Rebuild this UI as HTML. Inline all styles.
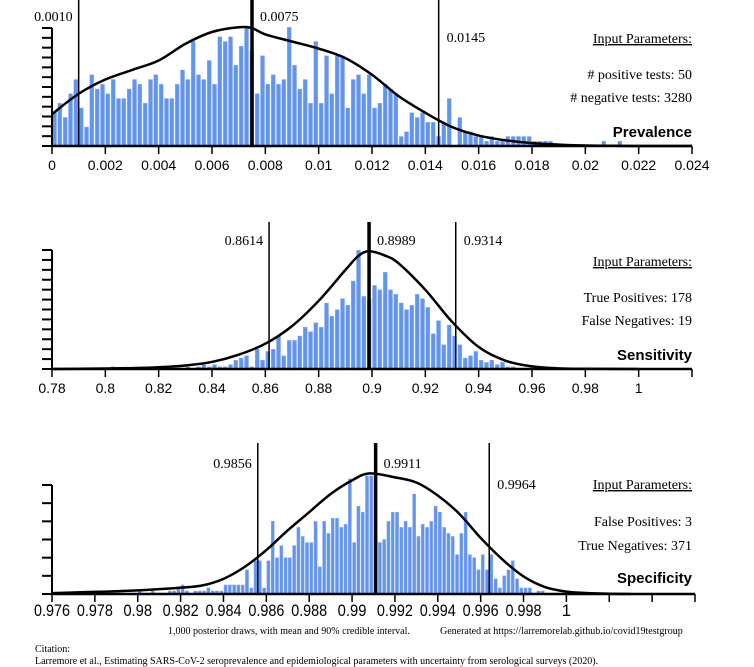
<!DOCTYPE html>
<html><head><meta charset="utf-8"><style>
html,body{margin:0;padding:0;background:#fff;}
svg{display:block;}
.tk{font-family:"Liberation Sans",sans-serif;font-size:14px;fill:#000;}
.tk3{font-family:"Liberation Sans",sans-serif;font-size:17px;fill:#000;}
.sf{font-family:"Liberation Serif",serif;font-size:14px;fill:#000;}
.ttl{font-family:"Liberation Sans",sans-serif;font-size:15px;font-weight:bold;fill:#000;}
.ft{font-family:"Liberation Serif",serif;font-size:10px;fill:#000;}
</style></head><body>
<svg id="chart" width="754" height="667" viewBox="0 0 754 667" xmlns="http://www.w3.org/2000/svg">
<text class="ft" x="168" y="634">1,000 posterior draws, with mean and 90% credible interval.</text>
<text class="ft" x="440" y="634">Generated at https://larremorelab.github.io/covid19testgroup</text>
<text class="ft" x="35" y="652">Citation:</text>
<text class="ft" x="35" y="664">Larremore et al., Estimating SARS-CoV-2 seroprevalence and epidemiological parameters with uncertainty from serological surveys (2020).</text>
</svg>
<script>
// ---- Prevalence data ----
const prevBin = 0.0002;
const prevCounts = [7,9,6,11,14,8,4,15,12,13,11,14,10,10,12,14,13,9,14,15,13,10,10,13,16,14,22,15,14,18,13,23,22,23,17,21,25,20,11,19,13,15,13,14,25,17,12,14,9,22,9,19,11,19,19,8,14,15,11,15,8,9,13,12,11,2,3,7,6,7,5,5,2,5,10,0,6,3,3,2,2,1,2,1,1,2,2,2,2,2,1,1,1,1,0,0,0,0,0,0,0,0,0,1,0,0,1];
const prevCurveX = [0,0.001,0.002,0.003,0.004,0.005,0.006,0.007,0.0075,0.008,0.009,0.010,0.011,0.012,0.013,0.014,0.015,0.016,0.017,0.018,0.019,0.020,0.021,0.022,0.024];
const prevCurveY = [6.7,11,14,16,18,21.5,24,25,24.8,23.5,22,20.5,18.5,15,10.5,7,4,2.2,1.2,0.6,0.3,0.1,0.05,0,0];
const prevInterval = [0.0010,0.0075,0.0145];
const prevTicks = ["0","0.002","0.004","0.006","0.008","0.01","0.012","0.014","0.016","0.018","0.02","0.022","0.024"];
// ---- Sensitivity data ----
const sensBin = 0.002;
const sensCounts = [0,0,0,0,0,0,0,0,0,0,0,1,0,0,0,0,0,0,0,0,1,0,0,0,0,1,0,1,2,1,2,1,1,2,4,5,6,1,9,4,8,9,15,6,13,13,15,19,17,21,19,30,24,27,32,29,40,54,33,32,38,36,44,36,34,30,27,29,34,32,28,16,22,11,20,15,11,5,6,8,4,3,4,2,3,1,1];
const sensCurveX = [0.78,0.79,0.80,0.81,0.82,0.83,0.84,0.85,0.86,0.87,0.88,0.89,0.895,0.899,0.905,0.91,0.92,0.93,0.94,0.95,0.96,0.97,0.98,1.0];
const sensCurveY = [0,0.1,0.2,0.4,0.8,1.6,3.2,6.5,11.5,19.5,31,45,51.5,53.5,51.5,48,36,21.5,10,3.8,1.2,0.3,0.1,0];
const sensInterval = [0.8614,0.8989,0.9314];
const sensTicks = ["0.78","0.8","0.82","0.84","0.86","0.88","0.9","0.92","0.94","0.96","0.98","1",""];
// ---- Specificity data ----
const specBin = 0.0002;
const specCounts = [0,0,0,0,0,0,0,0,0,0,0,0,0,0,0,0,0,0,0,0,1,0,0,1,0,0,0,1,1,2,3,1,0,1,1,1,2,1,1,1,3,3,3,3,3,8,2,11,11,2,11,24,12,16,12,12,16,22,19,17,17,24,9,24,20,25,25,22,23,38,17,29,27,39,39,18,17,18,24,27,27,22,24,22,33,19,23,22,24,29,27,22,20,19,13,20,27,13,12,8,13,8,13,5,2,6,8,11,5,2,2,2,0,1,1];
const specCurveX = [0.976,0.977,0.978,0.979,0.980,0.981,0.982,0.983,0.984,0.985,0.986,0.987,0.988,0.989,0.990,0.9908,0.992,0.993,0.994,0.995,0.996,0.997,0.998,0.999,1.000,1.001,1.002,1.003];
const specCurveY = [0.3,0.5,0.7,0.9,1.2,1.6,2.1,2.8,5,9,14.5,21,27,33,37.5,39.8,38.5,36.8,32.5,26.5,18.5,11.5,5.8,2.3,0.8,0.3,0.1,0];
const specInterval = [0.9856,0.9911,0.9964];
const specTicks = ["0.976","0.978","0.98","0.982","0.984","0.986","0.988","0.99","0.992","0.994","0.996","0.998","1","","",""];

const NS = "http://www.w3.org/2000/svg";
const svg = document.getElementById('chart');
function mk(tag, attrs, parent){
  const e = document.createElementNS(NS, tag);
  for (const k in attrs) e.setAttribute(k, attrs[k]);
  (parent||svg).appendChild(e);
  return e;
}
function smoothPath(pts){
  let d = 'M' + pts[0][0].toFixed(2) + ',' + pts[0][1].toFixed(2);
  for (let i = 0; i < pts.length - 1; i++) {
    const p0 = pts[Math.max(0, i - 1)], p1 = pts[i], p2 = pts[i + 1], p3 = pts[Math.min(pts.length - 1, i + 2)];
    const c1x = p1[0] + (p2[0] - p0[0]) / 6, c1y = p1[1] + (p2[1] - p0[1]) / 6;
    const c2x = p2[0] - (p3[0] - p1[0]) / 6, c2y = p2[1] - (p3[1] - p1[1]) / 6;
    d += 'C' + c1x.toFixed(2) + ',' + c1y.toFixed(2) + ' ' + c2x.toFixed(2) + ',' + c2y.toFixed(2) + ' ' + p2[0].toFixed(2) + ',' + p2[1].toFixed(2);
  }
  return d;
}

function drawChart(cfg){
  const g = mk('g', {});
  
  
  const xs = v => cfg.px0 + (v - cfg.x0) / (cfg.x1 - cfg.x0) * (cfg.px1 - cfg.px0);
  const ys = c => cfg.base - c * cfg.unit;
  const bw = xs(cfg.x0 + cfg.bin) - xs(cfg.x0);
  cfg.counts.forEach((c, i) => {
    if (!c) return;
    const x = xs(cfg.x0 + i * cfg.bin);
    const r = mk('rect', {x: (x + 0.5).toFixed(2), y: ys(c).toFixed(2), width: (bw - cfg.gap).toFixed(2), height: (c * cfg.unit).toFixed(2), fill: '#6495ed', stroke: '#8fb0f0', 'stroke-width': 0.4}, g);
    
    
  });
  const pts = cfg.cx.map((v, i) => [xs(v), ys(cfg.cy[i])]);
  const p = mk('path', {d: smoothPath(pts), fill: 'none', stroke: '#000', 'stroke-width': 2.5, 'stroke-linejoin': 'round'}, g);
  
  
  const ya = mk('line', {x1: cfg.px0, x2: cfg.px0, y1: cfg.yTop, y2: cfg.base, stroke: '#000', 'stroke-width': 2}, g);
  
  
  for (let k = 0; k <= cfg.nYT; k++) {
    const y = cfg.base - k * (cfg.base - cfg.yTop) / cfg.nYT;
    const t = mk('line', {x1: cfg.px0 - 10, x2: cfg.px0, y1: y, y2: y, stroke: '#000', 'stroke-width': 2}, g);
    
    
  }
  const xa = mk('line', {x1: cfg.px0 - 1, x2: cfg.axEnd, y1: cfg.base, y2: cfg.base, stroke: '#000', 'stroke-width': 2.5}, g);
  
  
  cfg.ticks.forEach((lab, i) => {
    const v = cfg.x0 + i * cfg.tstep;
    const x = xs(v);
    const t = mk('line', {x1: x, x2: x, y1: cfg.base, y2: cfg.base + 8, stroke: '#000', 'stroke-width': 1.5}, g);
    
    
    if (lab) {
      const at = {x: x, y: cfg.base + cfg.lblDy, 'text-anchor': 'middle', class: cfg.tkClass};
      if (cfg.squeeze && lab.length > 1) { at.textLength = cfg.squeeze * lab.length; at.lengthAdjust = 'spacingAndGlyphs'; }
      const tx = mk('text', at, g);
      tx.textContent = lab;
      
      
    }
  });
  cfg.interval.forEach((v, i) => {
    const x = xs(v);
    const l = mk('line', {x1: x, x2: x, y1: cfg.lineTop, y2: cfg.base, stroke: '#000', 'stroke-width': i === 1 ? 3.5 : 1.5}, g);
    
    
    const lp = cfg.labPos[i];
    const tx = mk('text', {x: x + lp[0], y: lp[1], 'text-anchor': lp[0] < 0 ? 'end' : 'start', class: 'sf'}, g);
    tx.textContent = cfg.fmt(v);
    
    
  });
  const ip = mk('text', {x: 692, y: cfg.params[0], 'text-anchor': 'end', class: 'sf', 'text-decoration': 'underline'}, g);
  ip.textContent = 'Input Parameters:';
  
  
  cfg.paramText.forEach((s, i) => {
    const t = mk('text', {x: 692, y: cfg.params[i + 1], 'text-anchor': 'end', class: 'sf'}, g);
    t.textContent = s;
    
    
  });
  const tt = mk('text', {x: 692, y: cfg.params[3], 'text-anchor': 'end', class: 'ttl'}, g);
  tt.textContent = cfg.title;
  
  
}

drawChart({name:'prevalence', x0:0, x1:0.024, px0:52, px1:692, axEnd:692, base:146, unit:4.75, bin:prevBin, gap:1.3,
  counts:prevCounts, cx:prevCurveX, cy:prevCurveY, yTop:28, nYT:12, ticks:prevTicks, tstep:0.002, lblDy:24, tkClass:'tk',
  interval:prevInterval, lineTop:0, labPos:[[-6,21],[8,21],[8,42]], fmt:v=>v.toFixed(4),
  params:[43,79,102,137], paramText:['# positive tests: 50','# negative tests: 3280'], title:'Prevalence'});

drawChart({name:'sensitivity', x0:0.78, x1:1.02, px0:52, px1:692, axEnd:692, base:369, unit:2.2, bin:sensBin, gap:1.3,
  counts:sensCounts, cx:sensCurveX, cy:sensCurveY, yTop:250, nYT:12, ticks:sensTicks, tstep:0.02, lblDy:24, tkClass:'tk',
  interval:sensInterval, lineTop:222, labPos:[[-6,245],[8,245],[8,245]], fmt:v=>v.toFixed(4),
  params:[266,302,325,360], paramText:['True Positives: 178','False Negatives: 19'], title:'Sensitivity'});

drawChart({name:'specificity', x0:0.976, x1:1.006, px0:52, px1:695, axEnd:695, base:594, unit:3.03, bin:specBin, gap:1.1,
  counts:specCounts, cx:specCurveX, cy:specCurveY, yTop:485, nYT:6, ticks:specTicks, tstep:0.002, lblDy:22, tkClass:'tk3', squeeze:7.2,
  interval:specInterval, lineTop:443, labPos:[[-6,468],[8,468],[8,489]], fmt:v=>v.toFixed(4),
  params:[489,526,550,583], paramText:['False Positives: 3','True Negatives: 371'], title:'Specificity'});
</script>
</body></html>
